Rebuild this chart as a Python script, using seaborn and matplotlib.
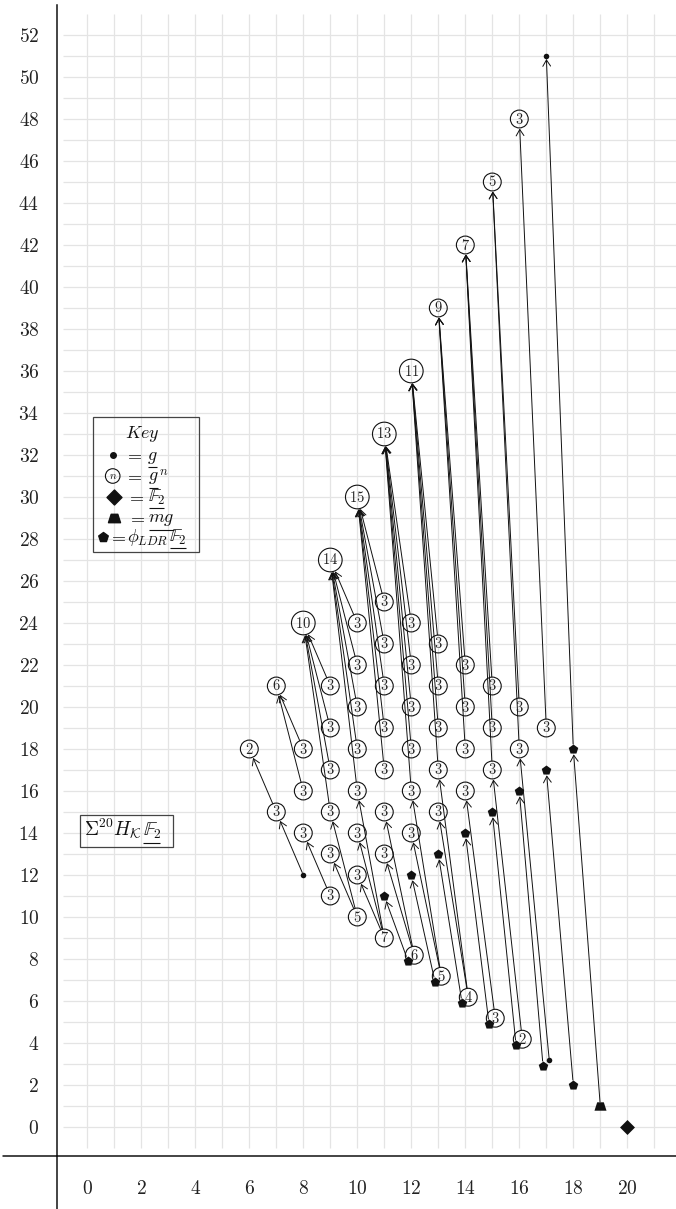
import matplotlib
matplotlib.use("Agg")
import matplotlib.pyplot as plt
from matplotlib.path import Path
from matplotlib.patches import Rectangle
import seaborn as sns

# ---------------- data ----------------
# top class of each column (on the line y = 3x), with its multiplicity
top_x = [6, 7, 8, 9, 10, 11, 12, 13, 14, 15, 16]
top_y = [18, 21, 24, 27, 30, 33, 36, 39, 42, 45, 48]
top_n = [2, 6, 10, 14, 15, 13, 11, 9, 7, 5, 3]

# circled 3's in the middle of the chart
three_x = [7,
           8, 8, 8,
           9, 9, 9, 9, 9, 9,
           10, 10, 10, 10, 10, 10, 10,
           11, 11, 11, 11, 11, 11, 11,
           12, 12, 12, 12, 12, 12,
           13, 13, 13, 13, 13,
           14, 14, 14, 14,
           15, 15, 15,
           16, 16,
           17]
three_y = [15,
           14, 16, 18,
           11, 13, 15, 17, 19, 21,
           12, 14, 16, 18, 20, 22, 24,
           13, 15, 17, 19, 21, 23, 25,
           14, 16, 18, 20, 22, 24,
           15, 17, 19, 21, 23,
           16, 18, 20, 22,
           17, 19, 21,
           18, 20,
           19]

# circled classes on the bottom diagonal
low_x = [10, 11, 12, 13, 14, 15, 16]
low_y = [10, 9, 8, 7, 6, 5, 4]
low_n = [5, 7, 6, 5, 4, 3, 2]

# single g's
dot_x = [8, 17, 17]
dot_y = [12, 51, 3]

# phi_LDR F2 classes
pent_x = [11, 12, 13, 14, 15, 16, 17, 18, 12, 13, 14, 15, 16, 17, 18]
pent_y = [11, 12, 13, 14, 15, 16, 17, 18, 8, 7, 6, 5, 4, 3, 2]

mg_x, mg_y = [19], [1]
f2_x, f2_y = [20], [0]

# differentials, source -> target
d_src = [(8, 12), (7, 15), (9, 11), (10, 10), (10, 10),
         (11, 9), (11, 9), (11, 9), (12, 8), (12, 8), (12, 8),
         (13, 7), (13, 7), (13, 7), (14, 6), (14, 6), (14, 6),
         (15, 5), (15, 5), (16, 4), (16, 4), (17, 3), (17, 3),
         (18, 2), (19, 1),
         (8, 16), (8, 18),
         (9, 15), (9, 17), (9, 19), (9, 21),
         (10, 16), (10, 18), (10, 20), (10, 22), (10, 24),
         (11, 17), (11, 19), (11, 21), (11, 23), (11, 25),
         (12, 16), (12, 18), (12, 20), (12, 22), (12, 24),
         (13, 17), (13, 19), (13, 21), (13, 23),
         (14, 18), (14, 20), (14, 22),
         (15, 17), (15, 19), (15, 21),
         (16, 18), (16, 20),
         (17, 19),
         (18, 18)]
d_tgt = [(7, 15), (6, 18), (8, 14), (9, 13), (9, 15),
         (10, 12), (10, 14), (10, 16), (11, 11), (11, 13), (11, 15),
         (12, 12), (12, 14), (12, 16), (13, 13), (13, 15), (13, 17),
         (14, 14), (14, 16), (15, 15), (15, 17), (16, 16), (16, 18),
         (17, 17), (18, 18),
         (7, 21), (7, 21),
         (8, 24), (8, 24), (8, 24), (8, 24),
         (9, 27), (9, 27), (9, 27), (9, 27), (9, 27),
         (10, 30), (10, 30), (10, 30), (10, 30), (10, 30),
         (11, 33), (11, 33), (11, 33), (11, 33), (11, 33),
         (12, 36), (12, 36), (12, 36), (12, 36),
         (13, 39), (13, 39), (13, 39),
         (14, 42), (14, 42), (14, 42),
         (15, 45), (15, 45),
         (16, 48),
         (17, 51)]

xticks = [0, 2, 4, 6, 8, 10, 12, 14, 16, 18, 20]
yticks = list(range(0, 53, 2))

# ---------------- style ----------------
sns.set_style("white")
plt.rcParams["mathtext.fontset"] = "cm"
plt.rcParams["font.family"] = ["DejaVu Serif"]

W, H = 676, 1209
fig = plt.figure(figsize=(W / 100, H / 100), dpi=100)
renderer = fig.canvas.get_renderer()

X0, XU = 87.3, 27.0   # pixel of x=0, pixels per unit
Y0, YU = 1127.0, 21.0


def px_x(p):
    return (p - X0) / XU


def px_y(p):
    return (Y0 - p) / YU


left_px, bottom_px = 57.3, 1156.3
ax = fig.add_axes([left_px / W, (H - bottom_px) / H,
                   (W - left_px) / W, bottom_px / H])
ax.set_xlim(px_x(left_px), px_x(W))
ax.set_ylim(px_y(bottom_px), px_y(0))

grid_c = "#e4e4e4"
ax.vlines(range(0, 22), -1, 53, color=grid_c, lw=0.9, zorder=0)
ax.hlines(range(0, 53), -0.89, 22.5, color=grid_c, lw=0.9, zorder=0)

for s in ["top", "right"]:
    ax.spines[s].set_visible(False)
for s in ["left", "bottom"]:
    ax.spines[s].set_color("#111111")
    ax.spines[s].set_linewidth(1.1)
ax.spines["left"].set_bounds(px_y(bottom_px), px_y(5))
xl, yb = px_x(left_px), px_y(bottom_px)
ax.plot([xl, xl], [px_y(H), yb], color="#111111", lw=1.1, clip_on=False)
ax.plot([px_x(3), xl], [yb, yb], color="#111111", lw=1.1, clip_on=False)

ax.set_xticks(xticks)
ax.set_xticklabels([f"${t}$" for t in xticks], fontsize=14, color="#222222")
ax.set_yticks(yticks)
ax.set_yticklabels([f"${t}$" for t in yticks], fontsize=14, color="#222222")
ax.tick_params(length=0)
ax.tick_params(axis="x", pad=17)
ax.tick_params(axis="y", pad=13)

# ---------------- classes ----------------
circ = {}
for x, y, n in zip(top_x, top_y, top_n):
    circ[(x, y)] = n
for x, y in zip(three_x, three_y):
    circ[(x, y)] = 3
for x, y, n in zip(low_x, low_y, low_n):
    circ[(x, y)] = n
dots = set(zip(dot_x, dot_y))
pents = set(zip(pent_x, pent_y))
shared = pents & (set(circ) | dots)

OFF_C = (0.11, 0.18)
OFF_P = (-0.12, -0.10)


def place(x, y, kind):
    if (x, y) in shared:
        off = OFF_P if kind == "p" else OFF_C
        return x + off[0], y + off[1]
    return x, y


def radius(x, y, kind):
    if kind == "c":
        return 8.6 if circ[(x, y)] >= 10 else 6.6
    return {"g": 1.9, "p": 3.6, "m": 3.0, "f": 5.0}[kind]


def kind_at(x, y, prefer_pent=False):
    if (x, y) in pents and (prefer_pent or (x, y) not in shared):
        return "p"
    if (x, y) in circ:
        return "c"
    if (x, y) in dots:
        return "g"
    if (x, y) == (mg_x[0], mg_y[0]):
        return "m"
    return "f"


# circles with multiplicities
cx, cy, cs = [], [], []
for (x, y), n in circ.items():
    px, py = place(x, y, "c")
    cx.append(px)
    cy.append(py)
    cs.append(290 if n >= 10 else 165)
    ax.text(px, py, f"${n}$", ha="center", va="center", fontsize=10.5,
            color="#222222", zorder=5)
ax.scatter(cx, cy, s=cs, facecolors="none", edgecolors="#111111",
           linewidths=0.8, zorder=4)

gx, gy = zip(*[place(x, y, "g") for x, y in zip(dot_x, dot_y)])
sns.scatterplot(x=list(gx), y=list(gy), s=16, color="#111111", linewidth=0,
                ax=ax, zorder=4)

ppx, ppy = zip(*[place(x, y, "p") for x, y in zip(pent_x, pent_y)])
sns.scatterplot(x=list(ppx), y=list(ppy), marker="p", s=52, color="#111111",
                linewidth=0, ax=ax, zorder=4)

trap = Path([(-1, -0.7), (1, -0.7), (0.55, 0.7), (-0.55, 0.7), (-1, -0.7)],
            [Path.MOVETO, Path.LINETO, Path.LINETO, Path.LINETO, Path.CLOSEPOLY])
sns.scatterplot(x=mg_x, y=mg_y, marker=trap, s=75, color="#111111",
                linewidth=0, ax=ax, zorder=4)
sns.scatterplot(x=f2_x, y=f2_y, marker="D", s=58, color="#111111",
                linewidth=0, ax=ax, zorder=4)

# differentials
for (sx, sy), (tx, ty) in zip(d_src, d_tgt):
    tk = kind_at(tx, ty)
    sk = kind_at(sx, sy, prefer_pent=(tk == "p"))
    p0 = place(sx, sy, sk)
    p1 = place(tx, ty, tk)
    ax.annotate("", xy=p1, xytext=p0, zorder=3,
                arrowprops=dict(arrowstyle="->,head_length=0.45,head_width=0.28",
                                lw=0.7, color="#111111",
                                shrinkA=radius(sx, sy, sk),
                                shrinkB=radius(tx, ty, tk) + 0.3))

# ---------------- key and label boxes ----------------
kc = "#111111"


def piece(x_px, base_px, tex, fs=13, underline=False):
    """Put one bit of math with its baseline at base_px; return its right edge (px)."""
    t = ax.text(px_x(x_px), px_y(base_px), tex, ha="left", va="baseline",
                fontsize=fs, color=kc, zorder=7)
    bb = t.get_window_extent(renderer)
    if underline:
        yy = H - bb.y0 + 1.8
        ax.plot([px_x(bb.x0 + 0.5), px_x(bb.x1 - 0.5)], [px_y(yy), px_y(yy)],
                color=kc, lw=0.8, zorder=7, solid_capstyle="butt")
    return bb.x1


ax.add_patch(Rectangle((px_x(92.7), px_y(552)), px_x(199) - px_x(92.7),
                       px_y(417) - px_y(552), fill=False, ec="#444444",
                       lw=0.9, zorder=6))
ax.text(px_x(142), px_y(434), r"$Key$", ha="center", va="center",
        fontsize=13, color=kc, zorder=7)

# g
ax.scatter([px_x(113.3)], [px_y(455)], s=16, color=kc, zorder=7)
piece(124, 459.5, r"$=$")
piece(147, 459.5, r"$g$", underline=True)
# g^n
ax.scatter([px_x(112.7)], [px_y(476)], s=110, facecolors="none",
           edgecolors=kc, linewidths=0.8, zorder=7)
ax.text(px_x(112.7), px_y(476), r"$n$", ha="center", va="center",
        fontsize=8, color=kc, zorder=7)
piece(124, 480.5, r"$=$")
e = piece(148, 480.5, r"$g$", underline=True)
piece(e + 0.5, 480.5, r"$^n$")
# F2
ax.scatter([px_x(114.3)], [px_y(497)], s=58, marker="D", color=kc, zorder=7)
piece(126, 501.5, r"$=$")
piece(148, 501.5, r"$\mathbb{F}_2$", underline=True)
# mg
ax.scatter([px_x(114.3)], [px_y(518.3)], s=75, marker=trap, color=kc, zorder=7)
piece(127, 522.5, r"$=$")
piece(148, 522.5, r"$mg$", underline=True)
# phi_LDR F2
ax.scatter([px_x(103)], [px_y(537)], s=52, marker="p", color=kc, zorder=7)
e = piece(107.5, 541.5, r"$=$")
e = piece(e + 1.5, 541.5, r"$\phi_{LDR}$")
piece(e + 1, 541.5, r"$\mathbb{F}_2$", underline=True)

# slice label
ax.add_patch(Rectangle((px_x(80), px_y(847)), px_x(173) - px_x(80),
                       px_y(815) - px_y(847), fill=False, ec="#444444",
                       lw=0.9, zorder=6))
e = piece(84, 836, r"$\Sigma^{20}H_{\mathcal{K}}$", fs=14)
piece(e + 1, 836, r"$\mathbb{F}_2$", fs=14, underline=True)

fig.savefig("out.png", dpi=100)
